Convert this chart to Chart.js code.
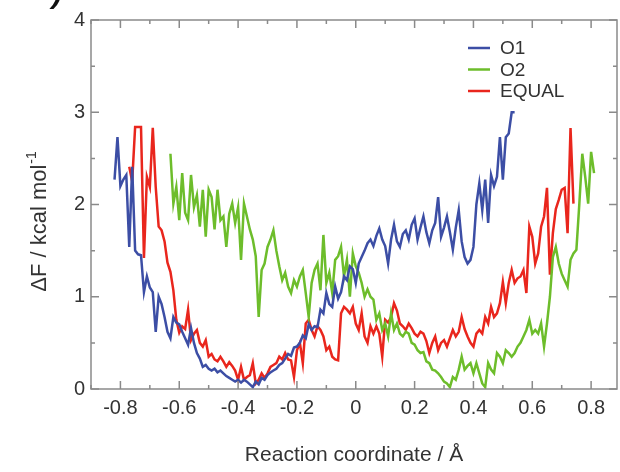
<!DOCTYPE html>
<html>
<head>
<meta charset="utf-8">
<script src="https://cdn.jsdelivr.net/npm/chart.js@4.4.0/dist/chart.umd.min.js"></script>
<style>
  html, body { margin: 0; padding: 0; background: #fff; }
  #wrap { width: 620px; height: 472px; }
</style>
</head>
<body>
<div id="wrap"><canvas id="pmf" width="620" height="472"></canvas></div>
<script>
// reaction coordinate (Å), shared by all three curves
const coords = [
  -0.82, -0.81, -0.80, -0.79, -0.78, -0.77, -0.76, -0.75, -0.74, -0.73,
  -0.72, -0.71, -0.70, -0.69, -0.68, -0.67, -0.66, -0.65, -0.64, -0.63,
  -0.62, -0.61, -0.60, -0.59, -0.58, -0.57, -0.56, -0.55, -0.54, -0.53,
  -0.52, -0.51, -0.50, -0.49, -0.48, -0.47, -0.46, -0.45, -0.44, -0.43,
  -0.42, -0.41, -0.40, -0.39, -0.38, -0.37, -0.36, -0.35, -0.34, -0.33,
  -0.32, -0.31, -0.30, -0.29, -0.28, -0.27, -0.26, -0.25, -0.24, -0.23,
  -0.22, -0.21, -0.20, -0.19, -0.18, -0.17, -0.16, -0.15, -0.14, -0.13,
  -0.12, -0.11, -0.10, -0.09, -0.08, -0.07, -0.06, -0.05, -0.04, -0.03,
  -0.02, -0.01, 0.00, 0.01, 0.02, 0.03, 0.04, 0.05, 0.06, 0.07,
  0.08, 0.09, 0.10, 0.11, 0.12, 0.13, 0.14, 0.15, 0.16, 0.17,
  0.18, 0.19, 0.20, 0.21, 0.22, 0.23, 0.24, 0.25, 0.26, 0.27,
  0.28, 0.29, 0.30, 0.31, 0.32, 0.33, 0.34, 0.35, 0.36, 0.37,
  0.38, 0.39, 0.40, 0.41, 0.42, 0.43, 0.44, 0.45, 0.46, 0.47,
  0.48, 0.49, 0.50, 0.51, 0.52, 0.53, 0.54, 0.55, 0.56, 0.57,
  0.58, 0.59, 0.60, 0.61, 0.62, 0.63, 0.64, 0.65, 0.66, 0.67,
  0.68, 0.69, 0.70, 0.71, 0.72, 0.73, 0.74, 0.75, 0.76, 0.77,
  0.78, 0.79, 0.80, 0.81
];

// free energy (kcal/mol), null where a curve has no data
const o1 = [
  2.27, 2.73, 2.2, 2.27, 2.32, 1.54, 2.41, 1.5, 1.46, 1.45,
  1.05, 1.22, 1.1, 1.05, 0.62, 1.0, 0.92, 0.78, 0.62, 0.55,
  0.78, 0.72, 0.7, 0.62, 0.55, 0.48, 0.66, 0.5, 0.39, 0.33,
  0.24, 0.26, 0.22, 0.2, 0.22, 0.18, 0.2, 0.17, 0.14, 0.12,
  0.1, 0.08, 0.1, 0.07, 0.1, 0.08, 0.05, 0.02, 0.08, 0.05,
  0.12, 0.1, 0.15, 0.18, 0.2, 0.22, 0.26, 0.28, 0.33, 0.38,
  0.36, 0.45, 0.46, 0.5, 0.58, 0.55, 0.7, 0.64, 0.68, 0.67,
  0.86, 0.82, 1.04, 0.92, 0.89, 1.11, 0.98, 1.05, 1.22, 1.18,
  1.33, 1.3, 1.15, 1.36, 1.43, 1.5, 1.58, 1.62, 1.55, 1.66,
  1.74, 1.62, 1.55, 1.36, 1.62, 1.78, 1.6, 1.54, 1.68, 1.72,
  1.62, 1.78, 1.85, 1.62, 1.75, 1.87, 1.7, 1.58, 1.72, 1.8,
  2.08, 1.65, 1.75, 1.87, 1.7, 1.51, 1.75, 1.94, 1.6, 1.43,
  1.36, 1.4, 1.54, 2.0, 2.23, 1.94, 2.27, 1.8, 2.32, 2.2,
  2.3, 2.73, 2.27, 2.73, 2.77, 3.0, 3.0, null, null, null,
  null, null, null, null, null, null, null, null, null, null,
  null, null, null, null, null, null, null, null, null, null,
  null, null, null, null
];

const o2 = [
  null, null, null, null, null, null, null, null, null, null,
  null, null, null, null, null, null, null, null, null, 2.55,
  2.01, 2.19, 1.83, 2.34, 1.91, 1.83, 2.32, 1.97, 2.1, 1.76,
  2.16, 1.65, 2.16, 2.08, 1.73, 2.16, 1.83, 1.87, 1.54, 1.9,
  2.01, 1.8, 1.97, 1.4, 2.01, 1.87, 1.73, 1.62, 1.44, 0.78,
  1.29, 1.36, 1.54, 1.62, 1.72, 1.5, 1.33, 1.18, 1.26, 1.11,
  1.04, 1.18, 1.11, 1.22, 1.29, 1.04, 0.78, 1.15, 1.29, 1.36,
  1.07, 1.67, 1.15, 1.26, 1.04, 1.4, 1.44, 1.54, 1.22, 1.4,
  1.0, 1.47, 1.33, 1.26, 1.15, 1.0, 1.08, 1.0, 0.97, 0.75,
  0.82, 0.64, 0.71, 0.57, 0.82, 0.64, 0.71, 0.6, 0.57, 0.62,
  0.6, 0.5, 0.48, 0.42, 0.39, 0.4, 0.3, 0.28, 0.21, 0.2,
  0.17, 0.13, 0.08, 0.06, 0.02, 0.13, 0.1, 0.21, 0.35, 0.21,
  0.25, 0.28, 0.17, 0.28, 0.17, 0.06, 0.02, 0.28, 0.21, 0.17,
  0.39, 0.35, 0.28, 0.42, 0.39, 0.35, 0.39, 0.46, 0.5, 0.57,
  0.64, 0.75, 0.6, 0.64, 0.6, 0.71, 0.46, 0.71, 1.0, 1.43,
  1.54, 1.36, 1.25, 1.18, 1.11, 1.4, 1.47, 1.51, 2.01, 2.55,
  2.3, 2.01, 2.57, 2.34
];

const equal = [
  null, null, null, null, null, 2.41, 2.25, 2.84, 2.84, 2.84,
  1.42, 2.3, 2.19, 2.83, 2.19, 1.76, 1.72, 1.6, 1.37, 1.27,
  1.07, 0.75, 0.61, 0.68, 0.65, 0.86, 0.53, 0.6, 0.64, 0.5,
  0.46, 0.53, 0.35, 0.38, 0.32, 0.3, 0.35, 0.3, 0.24, 0.29,
  0.25, 0.2, 0.1, 0.24, 0.1, 0.13, 0.15, 0.28, 0.06, 0.1,
  0.17, 0.12, 0.17, 0.24, 0.26, 0.28, 0.35, 0.32, 0.39, 0.32,
  0.31, 0.13, 0.42, 0.5, 0.28, 0.71, 0.75, 0.64, 0.57, 0.68,
  0.64, 0.57, 0.42, 0.46, 0.35, 0.32, 0.31, 0.82, 0.89, 0.86,
  0.82, 0.89, 0.71, 0.64, 0.82, 0.57, 0.5, 0.68, 0.6, 0.68,
  0.6, 0.35, 0.75, 0.72, 0.78, 0.93, 0.85, 0.71, 0.68, 0.64,
  0.71, 0.66, 0.6, 0.57, 0.62, 0.6, 0.52, 0.39, 0.5, 0.57,
  0.42, 0.5, 0.53, 0.46, 0.55, 0.64, 0.57, 0.62, 0.78, 0.65,
  0.57, 0.5, 0.46, 0.6, 0.64, 0.6, 0.78, 0.71, 0.89, 0.78,
  0.82, 0.93, 1.16, 0.93, 1.15, 1.29, 1.15, 1.2, 1.22, 1.29,
  1.04, 1.76, 1.65, 1.36, 1.47, 1.76, 1.87, 2.18, 1.24, 1.69,
  1.95, 2.05, 2.16, 2.18, 1.69, 2.83, 2.01, null, null, null,
  null, null, null, null
];

const seriesLabels = ['O1', 'O2', 'EQUAL'];
const seriesColors = ['#3c4ea5', '#6dbd2b', '#e9261d'];
const FONT = '"Liberation Sans", Arial, Helvetica, sans-serif';
const TEXT = '#333333';

const toPoints = vals => coords.map((x, i) => ({ x: x, y: vals[i] }));

// gray box with inward ticks on all four sides
const frameTicks = {
  id: 'frameTicks',
  afterDatasetsDraw(chart) {
    const { ctx, chartArea: a, scales: { x, y } } = chart;
    ctx.save();
    ctx.strokeStyle = '#8a8a8a';
    ctx.lineWidth = 1.5;
    ctx.strokeRect(a.left, a.top, a.right - a.left, a.bottom - a.top);
    ctx.beginPath();
    x.ticks.forEach(t => {
      const px = x.getPixelForValue(t.value);
      const len = t.label ? 8 : 4;
      ctx.moveTo(px, a.bottom); ctx.lineTo(px, a.bottom - len);
      ctx.moveTo(px, a.top); ctx.lineTo(px, a.top + len);
    });
    y.ticks.forEach(t => {
      const py = y.getPixelForValue(t.value);
      const len = t.label ? 8 : 4;
      ctx.moveTo(a.left, py); ctx.lineTo(a.left + len, py);
      ctx.moveTo(a.right, py); ctx.lineTo(a.right - len, py);
    });
    ctx.stroke();
    ctx.restore();
  }
};

// legend in the upper right of the plot, y title with superscript, panel mark
const extras = {
  id: 'extras',
  afterDraw(chart) {
    const ctx = chart.ctx;
    ctx.save();
    chart.data.datasets.forEach((ds, i) => {
      const ly = 48 + i * 21.5;
      ctx.strokeStyle = ds.borderColor;
      ctx.lineWidth = 2.5;
      ctx.beginPath();
      ctx.moveTo(468, ly);
      ctx.lineTo(490, ly);
      ctx.stroke();
      ctx.fillStyle = TEXT;
      ctx.font = '19px ' + FONT;
      ctx.textAlign = 'left';
      ctx.textBaseline = 'middle';
      ctx.fillText(ds.label, 500, ly + 1);
    });

    const main = 'ΔF / kcal mol';
    const sup = '-1';
    ctx.font = '22px ' + FONT;
    const w1 = ctx.measureText(main).width;
    ctx.font = '14px ' + FONT;
    const w2 = ctx.measureText(sup).width;
    ctx.translate(46, 222);
    ctx.rotate(-Math.PI / 2);
    ctx.fillStyle = TEXT;
    ctx.textAlign = 'left';
    ctx.textBaseline = 'alphabetic';
    const start = -(w1 + w2) / 2;
    ctx.font = '22px ' + FONT;
    ctx.fillText(main, start, 0);
    ctx.font = '14px ' + FONT;
    ctx.fillText(sup, start + w1 + 1, -10);
    ctx.restore();

    ctx.save();
    ctx.fillStyle = '#111';
    ctx.font = 'italic bold 30px ' + FONT;
    ctx.textAlign = 'left';
    ctx.textBaseline = 'alphabetic';
    ctx.fillText(')', 52, 3);
    ctx.restore();
  }
};

new Chart(document.getElementById('pmf'), {
  type: 'line',
  data: {
    datasets: [
      { label: seriesLabels[0], data: toPoints(o1), borderColor: seriesColors[0] },
      { label: seriesLabels[1], data: toPoints(o2), borderColor: seriesColors[1] },
      { label: seriesLabels[2], data: toPoints(equal), borderColor: seriesColors[2] }
    ]
  },
  options: {
    responsive: false,
    animation: false,
    devicePixelRatio: 1,
    layout: { padding: { top: 20, right: 3, left: 0, bottom: 0 } },
    elements: {
      line: { borderWidth: 2.5, tension: 0 },
      point: { radius: 0, hoverRadius: 0 }
    },
    spanGaps: false,
    scales: {
      x: {
        type: 'linear',
        min: -0.9,
        max: 0.888,
        afterFit(s) { s.height = 83; },
        grid: { display: false, drawTicks: false },
        border: { display: false },
        ticks: {
          stepSize: 0.1,
          includeBounds: false,
          autoSkip: false,
          maxRotation: 0,
          padding: 7,
          color: TEXT,
          font: { family: FONT, size: 20 },
          callback(v) {
            const k = Math.round(v * 10);
            if (k % 2 !== 0) return '';
            return k === 0 ? '0' : (k / 10).toFixed(1);
          }
        },
        title: {
          display: true,
          text: 'Reaction coordinate / Å',
          color: TEXT,
          font: { family: FONT, size: 21 },
          padding: { top: 0, bottom: 4 }
        }
      },
      y: {
        min: 0,
        max: 4,
        afterFit(s) { s.width = 91; },
        grid: { display: false, drawTicks: false },
        border: { display: false },
        ticks: {
          stepSize: 0.5,
          includeBounds: false,
          autoSkip: false,
          padding: 6,
          color: TEXT,
          font: { family: FONT, size: 20 },
          callback(v) {
            return Number.isInteger(v) ? String(v) : '';
          }
        }
      }
    },
    plugins: {
      legend: { display: false },
      tooltip: { enabled: false }
    }
  },
  plugins: [frameTicks, extras]
});
</script>
</body>
</html>
